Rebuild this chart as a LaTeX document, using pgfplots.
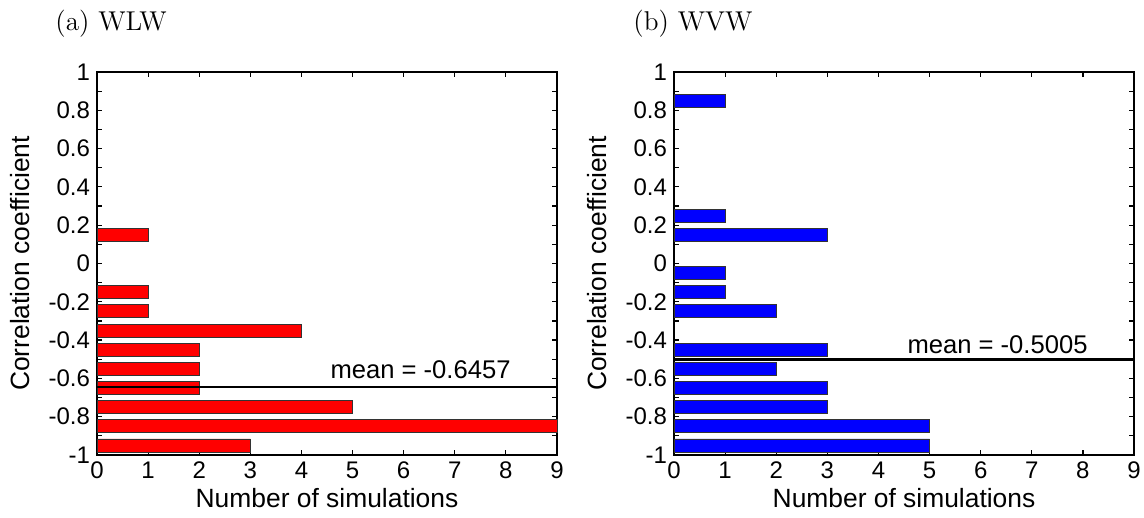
\documentclass[border=0pt]{standalone}
\usepackage{pgfplots}
\pgfplotsset{compat=1.18}
\usepackage{fontspec}
\newfontfamily\arial{Liberation Sans}

\pgfplotstableread{
c n
-0.95 3
-0.85 9
-0.75 5
-0.65 2
-0.55 2
-0.45 2
-0.35 4
-0.25 1
-0.15 1
0.15 1
}\wlw

\pgfplotstableread{
c n
-0.95 5
-0.85 5
-0.75 3
-0.65 3
-0.55 2
-0.45 3
-0.25 2
-0.15 1
-0.05 1
0.15 3
0.25 1
0.85 1
}\wvw

\pgfplotsset{
  hist/.style={
    scale only axis,
    width=230pt, height=191.5pt,
    xmin=0, xmax=9, ymin=-1, ymax=1,
    xtick={0,...,9},
    ytick={-1,-0.8,-0.6,-0.4,-0.2,0,0.2,0.4,0.6,0.8,1},
    yticklabels={-1,-0.8,-0.6,-0.4,-0.2,0,0.2,0.4,0.6,0.8,1},
    minor ytick={-0.9,-0.7,-0.5,-0.3,-0.1,0.1,0.3,0.5,0.7,0.9},
    xticklabels={0,1,2,3,4,5,6,7,8,9},
    tick align=inside,
    major tick length=2.5pt,
    minor tick length=2.5pt,
    tick style={black, line width=0.6pt},
    minor tick style={black, line width=0.6pt},
    axis line style={line width=0.8pt},
    ticklabel style={font=\arial\fontsize{12}{14}\selectfont},
    xlabel={Number of simulations},
    ylabel={Correlation coefficient},
    every axis x label/.style={at={(axis description cs:0.5,-0.112)}, anchor=center, font=\arial\fontsize{13.2}{15}\selectfont},
    every axis y label/.style={at={(axis description cs:-0.167,0.5)}, anchor=center, rotate=90, font=\arial\fontsize{13.2}{15}\selectfont},
    clip=false,
  }
}

\begin{document}
\begin{tikzpicture}
\useasboundingbox (0,0) rectangle (572pt,259pt);
\node[anchor=base west, inner sep=0, font=\fontsize{13.6}{16}\selectfont] at (27.5pt,243.7pt) {(a) WLW};
\node[anchor=base west, inner sep=0, font=\fontsize{13.6}{16}\selectfont] at (316.5pt,243.7pt) {(b) WVW};

\begin{axis}[hist, at={(48.5pt,31.5pt)}, anchor=south west]
\addplot[xbar, fill=red, draw=black!80, line width=0.4pt, bar width=0.068] table[x=n, y=c] {\wlw};
\addplot[black, line width=1.3pt] coordinates {(0,-0.6457) (9,-0.6457)};
\node[anchor=base, inner sep=0, font=\arial\fontsize{12.8}{15}\selectfont, yshift=4.5pt] at (axis cs:6.33,-0.6457) {mean = -0.6457};
\end{axis}

\begin{axis}[hist, at={(337pt,31.5pt)}, anchor=south west]
\addplot[xbar, fill=blue, draw=black!80, line width=0.4pt, bar width=0.068] table[x=n, y=c] {\wvw};
\addplot[black, line width=1.3pt] coordinates {(0,-0.5005) (9,-0.5005)};
\node[anchor=base, inner sep=0, font=\arial\fontsize{12.8}{15}\selectfont, yshift=3pt] at (axis cs:6.33,-0.5005) {mean = -0.5005};
\end{axis}
\end{tikzpicture}
\end{document}
